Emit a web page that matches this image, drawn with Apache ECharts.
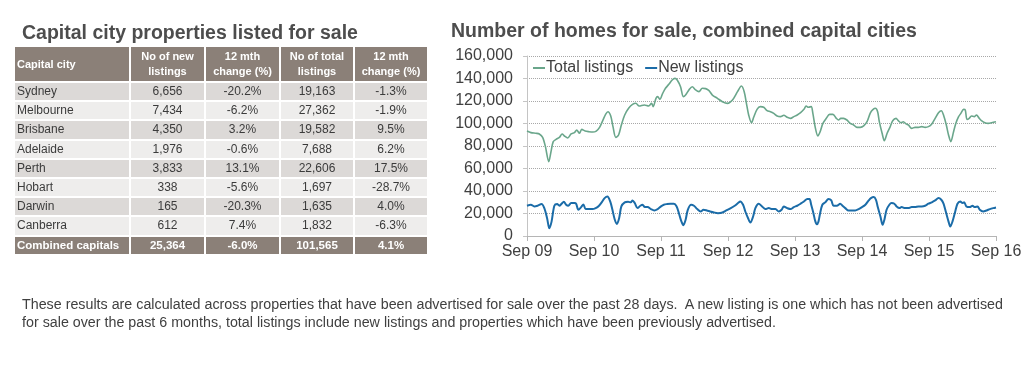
<!DOCTYPE html>
<html><head><meta charset="utf-8">
<script src="https://cdn.jsdelivr.net/npm/echarts@6/dist/echarts.min.js"></script>
<style>
html,body{margin:0;padding:0;background:#fff;width:1031px;height:366px;overflow:hidden;font-family:"Liberation Sans",Arial,sans-serif;}
#chart{position:absolute;left:0;top:0;width:1031px;height:366px;}
#ltitle{position:absolute;left:22px;top:21px;font-size:19.5px;font-weight:bold;color:#4d4d4d;white-space:nowrap;}
#tbl{position:absolute;left:13px;top:45px;border-collapse:collapse;table-layout:fixed;width:414px;}
#tbl td,#tbl th{border:2px solid #fff;padding:0;overflow:hidden;white-space:nowrap;box-sizing:border-box;}
#tbl th{background:#8b8078;color:#fff;font-size:11px;font-weight:bold;line-height:15px;height:36px;text-align:center;}
#tbl th.first{text-align:left;padding-left:2px;}
#tbl td{font-size:12px;color:#3b3b3b;height:19.2px;line-height:15px;text-align:center;}
#tbl td.first{text-align:left;padding-left:2px;}
#tbl tr.dark td{background:#dcd9d7;}
#tbl tr.light td{background:#eeedec;}
#tbl tr.total td{background:#8b8078;color:#fff;font-weight:bold;font-size:11.5px;}
#note{position:absolute;left:22px;top:295px;font-size:14px;color:#404040;line-height:18px;white-space:nowrap;transform-origin:0 0;}
</style>
</head><body>
<div id="chart"></div>
<div id="ltitle">Capital city properties listed for sale</div>
<table id="tbl"></table>
<div id="note"><span id="n1">These results are calculated across properties that have been advertised for sale over the past 28 days.&nbsp; A new listing is one which has not been advertised</span><br><span id="n2">for sale over the past 6 months, total listings include new listings and properties which have been previously advertised.</span></div>
<script>
// ---- Table data ----
const tableHeaders = ['Capital city', 'No of new<br>listings', '12 mth<br>change (%)', 'No of total<br>listings', '12 mth<br>change (%)'];
const cities = ['Sydney','Melbourne','Brisbane','Adelaide','Perth','Hobart','Darwin','Canberra'];
const newListingsCount = ['6,656','7,434','4,350','1,976','3,833','338','165','612'];
const newListingsChange = ['-20.2%','-6.2%','3.2%','-0.6%','13.1%','-5.6%','-20.3%','7.4%'];
const totalListingsCount = ['19,163','27,362','19,582','7,688','22,606','1,697','1,635','1,832'];
const totalListingsChange = ['-1.3%','-1.9%','9.5%','6.2%','17.5%','-28.7%','4.0%','-6.3%'];
const combinedRow = ['Combined capitals','25,364','-6.0%','101,565','4.1%'];

// ---- Chart data: [months since Sep 2009, value] ----
const xTickLabels = ['Sep 09','Sep 10','Sep 11','Sep 12','Sep 13','Sep 14','Sep 15','Sep 16'];
const totalListings = [[0,93300],[0.7,91900],[1.6,91300],[2.2,90700],[2.8,87700],[3.3,79400],[3.9,66100],[4.3,75000],[4.7,83900],[5.2,85900],[5.8,87700],[6.3,90700],[6.7,88900],[7.3,87100],[7.9,90700],[8.5,91900],[8.9,94200],[9.4,91300],[9.8,94800],[10.4,93300],[11.1,92700],[11.8,92400],[12.4,93300],[13.0,96600],[13.6,103000],[14.1,108400],[14.5,110500],[15.0,106700],[15.4,97200],[15.9,87700],[16.4,89800],[16.9,98700],[17.5,107600],[18.2,113500],[18.9,117000],[19.5,118000],[20.1,115500],[21.0,116500],[21.8,115600],[22.3,117900],[22.6,115000],[23.1,122400],[23.4,123900],[23.8,121500],[24.3,126800],[24.8,131300],[25.4,134800],[26.0,138700],[26.5,140100],[26.9,138700],[27.5,132700],[28.0,123900],[28.4,125300],[29.0,129800],[29.6,132700],[30.2,129800],[30.8,128300],[31.4,131300],[32.0,131000],[32.6,129200],[33.2,125300],[34.1,122400],[35.0,119400],[35.9,117900],[36.8,120900],[37.7,128300],[38.4,133300],[38.9,128300],[39.3,117900],[39.7,107600],[40.2,100700],[40.6,105500],[41.2,112600],[41.8,115000],[42.4,114400],[43.0,111400],[43.6,110500],[44.2,109000],[44.8,106700],[45.4,106100],[46.0,107300],[46.6,105500],[47.2,104600],[47.8,106100],[48.4,107600],[49.0,109600],[49.6,112600],[50.0,115600],[50.4,114400],[50.9,115000],[51.2,109000],[51.6,97200],[52.1,88900],[52.5,92700],[53.0,100100],[53.6,104600],[54.2,108100],[54.8,108100],[55.4,104600],[55.8,103100],[56.2,104600],[56.7,104600],[57.3,103100],[57.9,100100],[58.5,98700],[59.1,96600],[59.7,96600],[60.3,97800],[60.9,101600],[61.5,109500],[62.0,112600],[62.4,113500],[62.8,110500],[63.1,101600],[63.6,91300],[64.0,84700],[64.5,91300],[65.0,96600],[65.5,102500],[66.1,104600],[66.5,102500],[67.0,100700],[67.4,101600],[67.9,99600],[68.3,98700],[68.9,95700],[69.5,96600],[70.1,96600],[70.7,97200],[71.3,96600],[71.9,97200],[72.5,99600],[73.1,104600],[73.7,109600],[74.2,111400],[74.6,107600],[75.1,98700],[75.5,89800],[75.9,83900],[76.4,92700],[76.8,100100],[77.3,106100],[77.7,109000],[78.2,112600],[78.5,112000],[78.8,103700],[79.2,104600],[79.6,106700],[80.1,106100],[80.5,107600],[81.0,104600],[81.4,102500],[82.0,100700],[82.6,100100],[83.2,100700],[84.0,101600]];
const newListings = [[0,26900],[0.7,27800],[1.3,26300],[1.9,26900],[2.6,28400],[3.1,24800],[3.6,15800],[4.0,6900],[4.4,12800],[4.9,26900],[5.4,28400],[5.8,26900],[6.2,28700],[6.6,30400],[7.0,27800],[7.4,26900],[7.9,29300],[8.5,29300],[8.8,28700],[9.2,23300],[9.7,25700],[10.1,28100],[10.5,23900],[11.1,23900],[11.7,23900],[12.3,24800],[12.9,26900],[13.5,30700],[13.9,33700],[14.4,35200],[14.9,30700],[15.3,23300],[15.7,14900],[16.1,10700],[16.5,15800],[16.9,26300],[17.5,29900],[18.1,30400],[18.6,29900],[18.9,31600],[19.3,29300],[19.8,24800],[20.3,26900],[20.7,27800],[21.1,25700],[21.6,25700],[22.2,23900],[22.8,22700],[23.4,23900],[24.0,26300],[24.5,27800],[25.1,28400],[25.7,28700],[26.3,28700],[26.8,26300],[27.2,20300],[27.6,13700],[28.0,9600],[28.4,14300],[28.8,23300],[29.4,27800],[29.9,26900],[30.5,23900],[31.1,21800],[31.6,23300],[32.2,22700],[32.8,21800],[33.5,20900],[34.2,20300],[35.0,20900],[35.7,22700],[36.5,24800],[37.2,26900],[37.8,29300],[38.2,30700],[38.7,27800],[39.1,21800],[39.6,15800],[40.0,11900],[40.5,17300],[40.9,24800],[41.5,28700],[42.1,26300],[42.7,23900],[43.3,24800],[43.9,23900],[44.5,23900],[45.1,21800],[45.6,23300],[46.0,26300],[46.6,24800],[47.2,23900],[47.8,25700],[48.4,26900],[49.0,28700],[49.6,30700],[50.2,32800],[50.6,32800],[50.9,27800],[51.3,20300],[51.6,13700],[51.9,10400],[52.2,12800],[52.5,20300],[52.9,27800],[53.4,29900],[54.0,32800],[54.5,31600],[54.9,26900],[55.5,26900],[56.1,28700],[56.5,26900],[57.0,24800],[57.6,22700],[58.2,22700],[58.8,22700],[59.4,23900],[60.0,25700],[60.6,27800],[61.2,31600],[61.6,33700],[62.1,34600],[62.5,32200],[62.8,26300],[63.3,17300],[63.7,9900],[64.0,14300],[64.4,23300],[64.9,27800],[65.3,29300],[65.8,28700],[66.2,26300],[66.7,24800],[67.1,25700],[67.7,24800],[68.3,24800],[68.9,25700],[69.5,25700],[70.1,26300],[70.7,26300],[71.3,26900],[71.9,28700],[72.5,29900],[73.1,31600],[73.7,33700],[74.2,32200],[74.6,28700],[75.0,21800],[75.5,12800],[75.8,8400],[76.2,12800],[76.7,21800],[77.1,28700],[77.6,30700],[78.0,29300],[78.3,29900],[78.7,26300],[79.3,25700],[79.8,26900],[80.2,25700],[80.7,26300],[81.1,23300],[81.7,21800],[82.3,22700],[82.9,23900],[83.5,24800],[84.0,25400]];

// ---- Build table ----
(function(){
  const t = document.getElementById('tbl');
  let html = '<colgroup><col style="width:116px"><col style="width:75px"><col style="width:75px"><col style="width:74px"><col style="width:74px"></colgroup>';
  html += '<tr>' + tableHeaders.map((h,i)=>'<th'+(i===0?' class="first"':'')+'>'+h+'</th>').join('') + '</tr>';
  cities.forEach((c,i)=>{
    html += '<tr class="'+(i%2===0?'dark':'light')+'"><td class="first">'+c+'</td><td>'+newListingsCount[i]+'</td><td>'+newListingsChange[i]+'</td><td>'+totalListingsCount[i]+'</td><td>'+totalListingsChange[i]+'</td></tr>';
  });
  html += '<tr class="total">' + combinedRow.map((v,i)=>'<td'+(i===0?' class="first"':'')+'>'+v+'</td>').join('') + '</tr>';
  t.innerHTML = html;
  // fit footnote to width
  const n1 = document.getElementById('n1');
  const w = n1.getBoundingClientRect().width;
  document.getElementById('note').style.transform = 'scaleX(' + (981 / w) + ')';
})();

// ---- Chart ----
const chart = echarts.init(document.getElementById('chart'));
const FONT = '"Liberation Sans", Arial, sans-serif';
chart.setOption({
  backgroundColor: 'transparent',
  animation: false,
  textStyle: { fontFamily: FONT },
  title: {
    text: 'Number of homes for sale, combined capital cities',
    left: 451, top: 22, padding: 0,
    textStyle: { fontSize: 19.5, fontWeight: 'bold', color: '#4d4d4d', fontFamily: FONT }
  },
  legend: {
    left: 533, top: 60, padding: 0,
    icon: 'rect', itemWidth: 12, itemHeight: 2, itemGap: 12,
    textStyle: { fontSize: 16, color: '#404040', fontFamily: FONT, padding: [0,0,0,-4] },
    data: ['Total listings', 'New listings']
  },
  grid: { left: 527, right: 35, top: 56, bottom: 130 },
  xAxis: {
    type: 'value', min: 0, max: 84, interval: 12,
    axisLine: { show: true, lineStyle: { color: '#b5b5b5', width: 1 } },
    axisTick: { show: true, length: 5, lineStyle: { color: '#b5b5b5' } },
    splitLine: { show: false },
    axisLabel: { margin: 8, fontSize: 16, color: '#404040', fontFamily: FONT,
      formatter: v => xTickLabels[Math.round(v / 12)] || '' }
  },
  yAxis: {
    type: 'value', min: 0, max: 160000, interval: 20000,
    axisLine: { show: true, lineStyle: { color: '#c4c4c4', width: 1 } },
    axisTick: { show: true, length: 4, lineStyle: { color: '#c4c4c4' } },
    splitLine: { show: true, lineStyle: { color: '#a8a8a8', type: 'dotted', width: 1 } },
    axisLabel: { margin: 14, fontSize: 16, color: '#404040', fontFamily: FONT,
      formatter: v => v.toLocaleString('en-US') }
  },
  series: [
    { name: 'Total listings', type: 'line', data: totalListings, showSymbol: false,
      smooth: 0.3, lineStyle: { color: '#6aa68b', width: 1.6 }, itemStyle: { color: '#6aa68b' } },
    { name: 'New listings', type: 'line', data: newListings, showSymbol: false,
      smooth: 0.3, lineStyle: { color: '#1b6ca8', width: 2 }, itemStyle: { color: '#1b6ca8' } }
  ]
});
</script>
</body></html>
